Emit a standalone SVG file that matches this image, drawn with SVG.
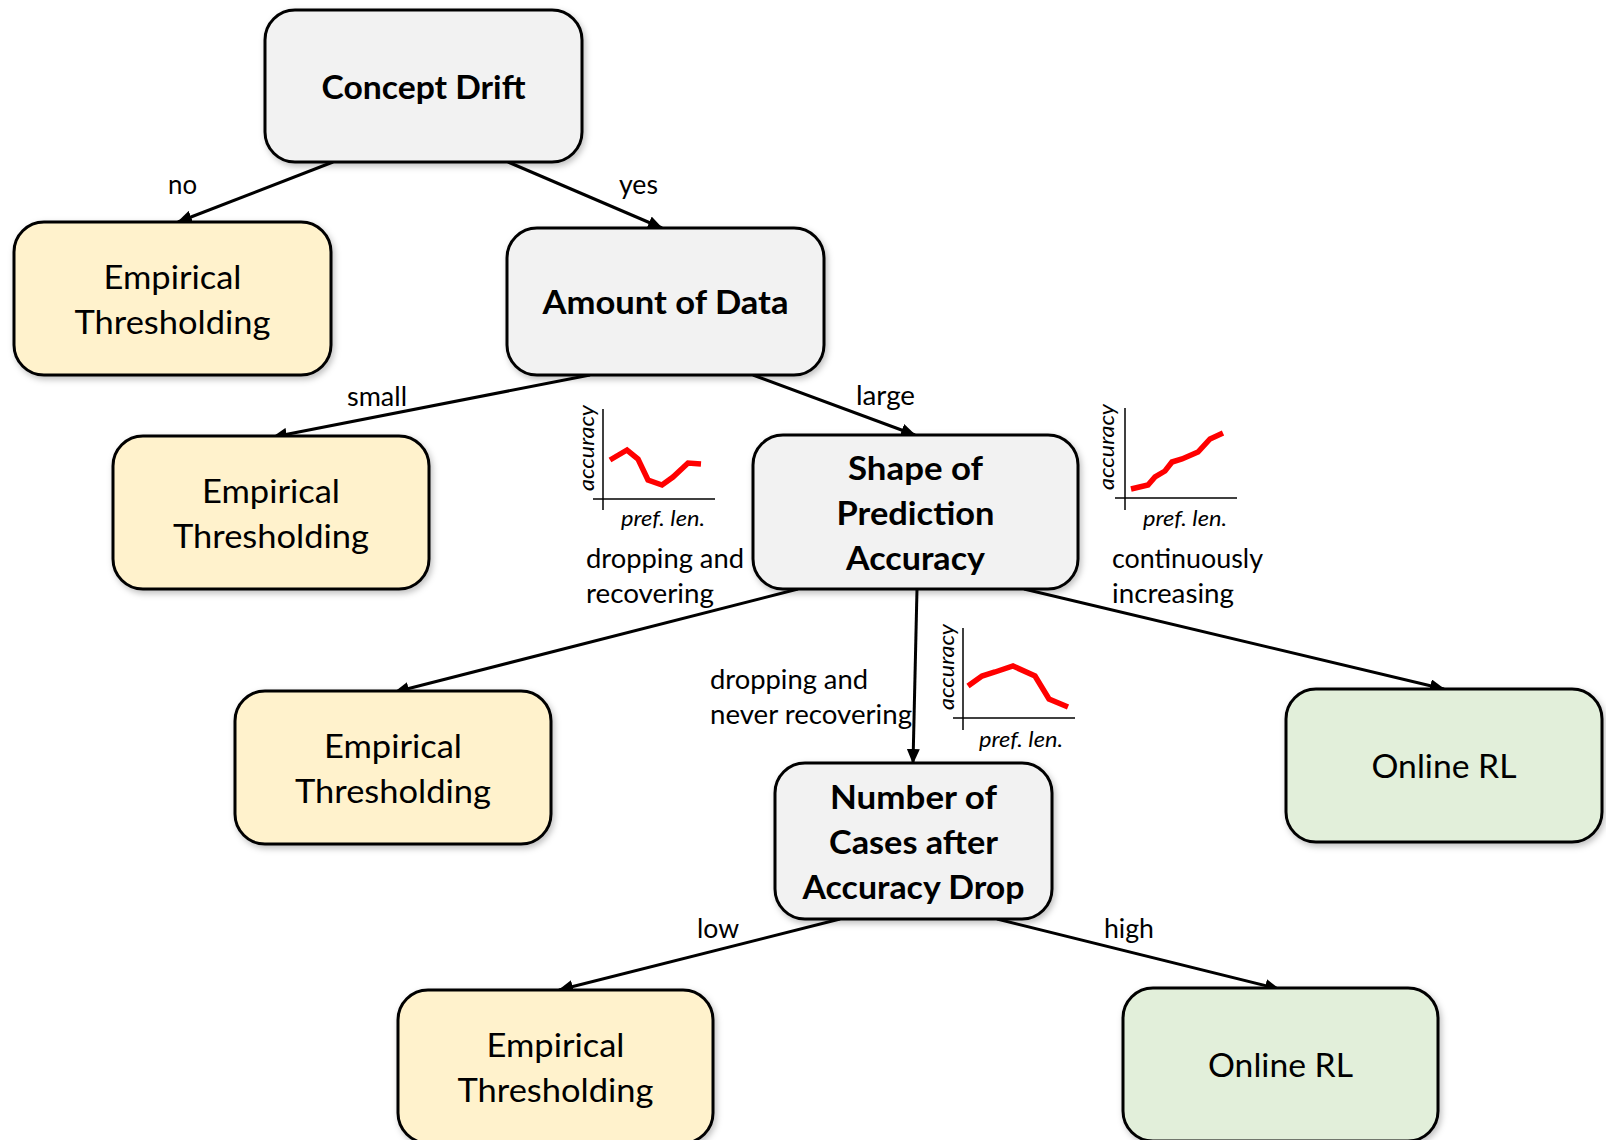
<svg xmlns="http://www.w3.org/2000/svg" width="1606" height="1140" viewBox="0 0 1606 1140">
<defs>
<filter id="sh" x="-10%" y="-10%" width="125%" height="130%">
<feDropShadow dx="2" dy="3" stdDeviation="3" flood-color="#000" flood-opacity="0.25"/>
</filter>
<marker id="ah" viewBox="0 0 15 13" refX="14" refY="6.5" markerWidth="15" markerHeight="13" markerUnits="userSpaceOnUse" orient="auto">
<path d="M0,0 L15,6.5 L0,13 z" fill="#000"/>
</marker>
</defs>
<style>
.box{stroke:#000;stroke-width:3;filter:url(#sh)}
.q{fill:#f2f2f2}
.y{fill:#fff2cc}
.g{fill:#e2efda}
.nt{font-family:Lato,"Open Sans","Liberation Sans",sans-serif;font-size:33px;fill:#000;text-anchor:middle}
.b{font-weight:bold}
.el{font-family:Lato,"Open Sans","Liberation Sans",sans-serif;font-size:27px;fill:#000}
.ct{font-family:Lato,"Open Sans","Liberation Sans",sans-serif;font-size:22px;font-style:italic;fill:#000;text-anchor:middle}
.edge{stroke:#000;stroke-width:3;fill:none;marker-end:url(#ah)}
.ax{stroke:#000;stroke-width:1.5;fill:none}
.rl{stroke:#ff0000;stroke-width:5.5;fill:none;stroke-linejoin:miter}
</style>
<rect width="1606" height="1140" fill="#fff"/>

<g id="connectors">
<line class="edge" x1="333" y1="162" x2="178" y2="222"/>
<line class="edge" x1="508" y1="162" x2="662" y2="228"/>
<line class="edge" x1="590" y1="375" x2="273" y2="437"/>
<line class="edge" x1="753" y1="375" x2="915" y2="435"/>
<line class="edge" x1="798" y1="589" x2="395" y2="692"/>
<line class="edge" x1="917" y1="589" x2="913" y2="763"/>
<line class="edge" x1="1024" y1="589" x2="1444" y2="689"/>
<line class="edge" x1="840" y1="919" x2="559" y2="990"/>
<line class="edge" x1="997" y1="919" x2="1279" y2="989"/>
</g>

<g id="edge-labels">
<text class="el" x="168" y="194" textLength="29" lengthAdjust="spacingAndGlyphs">no</text>
<text class="el" x="619" y="194" textLength="39" lengthAdjust="spacingAndGlyphs">yes</text>
<text class="el" x="347" y="406" textLength="60" lengthAdjust="spacingAndGlyphs">small</text>
<text class="el" x="856" y="405" textLength="59" lengthAdjust="spacingAndGlyphs">large</text>
<text class="el" x="586" y="568" textLength="158" lengthAdjust="spacingAndGlyphs">dropping and</text>
<text class="el" x="586" y="603" textLength="128" lengthAdjust="spacingAndGlyphs">recovering</text>
<text class="el" x="1112" y="568" textLength="151" lengthAdjust="spacingAndGlyphs">continuously</text>
<text class="el" x="1112" y="603" textLength="122" lengthAdjust="spacingAndGlyphs">increasing</text>
<text class="el" x="710" y="689" textLength="158" lengthAdjust="spacingAndGlyphs">dropping and</text>
<text class="el" x="710" y="724" textLength="202" lengthAdjust="spacingAndGlyphs">never recovering</text>
<text class="el" x="697" y="938" textLength="42" lengthAdjust="spacingAndGlyphs">low</text>
<text class="el" x="1104" y="938" textLength="50" lengthAdjust="spacingAndGlyphs">high</text>
</g>

<g id="chart-recovering">
<line class="ax" x1="603" y1="409" x2="603" y2="510"/>
<line class="ax" x1="593" y1="499" x2="715" y2="499"/>
<polyline class="rl" points="610,460 627,450 638,459 648,480 662,485 673,477 688,463 701,464"/>
<text class="ct" x="594" y="448" transform="rotate(-90 594 448)" textLength="86" lengthAdjust="spacingAndGlyphs">accuracy</text>
<text class="ct" x="663" y="526" textLength="84" lengthAdjust="spacingAndGlyphs">pref. len.</text>
</g>

<g id="chart-increasing">
<line class="ax" x1="1125" y1="408" x2="1125" y2="510"/>
<line class="ax" x1="1115" y1="498" x2="1237" y2="498"/>
<polyline class="rl" points="1131,489 1148,485 1155,477 1165,471 1172,462 1182,459 1198,452 1210,439 1223,433"/>
<text class="ct" x="1114" y="447" transform="rotate(-90 1114 447)" textLength="86" lengthAdjust="spacingAndGlyphs">accuracy</text>
<text class="ct" x="1185" y="526" textLength="84" lengthAdjust="spacingAndGlyphs">pref. len.</text>
</g>

<g id="chart-never">
<line class="ax" x1="963" y1="628" x2="963" y2="730"/>
<line class="ax" x1="953" y1="718" x2="1075" y2="718"/>
<polyline class="rl" points="968,686 982,676 995,672 1013,666 1035,676 1049,699 1068,707"/>
<text class="ct" x="954" y="667" transform="rotate(-90 954 667)" textLength="86" lengthAdjust="spacingAndGlyphs">accuracy</text>
<text class="ct" x="1021" y="747" textLength="84" lengthAdjust="spacingAndGlyphs">pref. len.</text>
</g>

<g id="concept-drift">
<rect class="box q" x="265" y="10" width="317" height="152" rx="30"/>
<text class="nt b" x="423.5" y="99" textLength="204" lengthAdjust="spacingAndGlyphs">Concept Drift</text>
</g>

<g id="empirical-1">
<rect class="box y" x="14" y="222" width="317" height="153" rx="30"/>
<text class="nt" x="172.5" y="289" textLength="138" lengthAdjust="spacingAndGlyphs">Empirical</text>
<text class="nt" x="172.5" y="334" textLength="196" lengthAdjust="spacingAndGlyphs">Thresholding</text>
</g>

<g id="amount-of-data">
<rect class="box q" x="507" y="228" width="317" height="147" rx="30"/>
<text class="nt b" x="665.5" y="314" textLength="246" lengthAdjust="spacingAndGlyphs">Amount of Data</text>
</g>

<g id="empirical-2">
<rect class="box y" x="113" y="436" width="316" height="153" rx="30"/>
<text class="nt" x="271" y="503" textLength="138" lengthAdjust="spacingAndGlyphs">Empirical</text>
<text class="nt" x="271" y="548" textLength="196" lengthAdjust="spacingAndGlyphs">Thresholding</text>
</g>

<g id="shape-of-prediction-accuracy">
<rect class="box q" x="753" y="435" width="325" height="154" rx="30"/>
<text class="nt b" x="915.5" y="480" textLength="135" lengthAdjust="spacingAndGlyphs">Shape of</text>
<text class="nt b" x="915.5" y="525" textLength="158" lengthAdjust="spacingAndGlyphs">Prediction</text>
<text class="nt b" x="915.5" y="570" textLength="139" lengthAdjust="spacingAndGlyphs">Accuracy</text>
</g>

<g id="empirical-3">
<rect class="box y" x="235" y="691" width="316" height="153" rx="30"/>
<text class="nt" x="393" y="758" textLength="138" lengthAdjust="spacingAndGlyphs">Empirical</text>
<text class="nt" x="393" y="803" textLength="196" lengthAdjust="spacingAndGlyphs">Thresholding</text>
</g>

<g id="online-rl-1">
<rect class="box g" x="1286" y="689" width="316" height="153" rx="30"/>
<text class="nt" x="1444" y="778" textLength="145" lengthAdjust="spacingAndGlyphs">Online RL</text>
</g>

<g id="number-of-cases">
<rect class="box q" x="775" y="763" width="277" height="156" rx="30"/>
<text class="nt b" x="913.5" y="809" textLength="167" lengthAdjust="spacingAndGlyphs">Number of</text>
<text class="nt b" x="913.5" y="854" textLength="169" lengthAdjust="spacingAndGlyphs">Cases after</text>
<text class="nt b" x="913.5" y="899" textLength="222" lengthAdjust="spacingAndGlyphs">Accuracy Drop</text>
</g>

<g id="empirical-4">
<rect class="box y" x="398" y="990" width="315" height="153" rx="30"/>
<text class="nt" x="555.5" y="1057" textLength="138" lengthAdjust="spacingAndGlyphs">Empirical</text>
<text class="nt" x="555.5" y="1102" textLength="196" lengthAdjust="spacingAndGlyphs">Thresholding</text>
</g>

<g id="online-rl-2">
<rect class="box g" x="1123" y="988" width="315" height="153" rx="30"/>
<text class="nt" x="1280.5" y="1077" textLength="145" lengthAdjust="spacingAndGlyphs">Online RL</text>
</g>
</svg>
